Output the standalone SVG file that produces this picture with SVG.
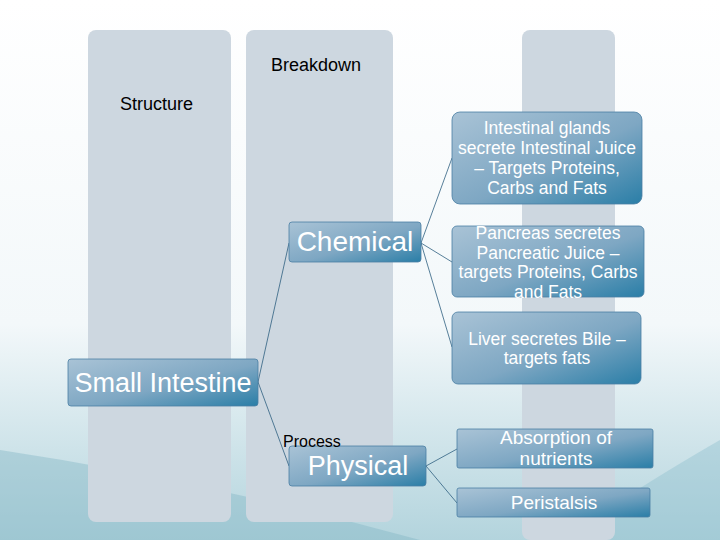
<svg xmlns="http://www.w3.org/2000/svg" width="720" height="540" viewBox="0 0 720 540">
<defs>
<linearGradient id="g" x1="0" y1="0" x2="1" y2="1">
<stop offset="0" stop-color="#a9c3d6"/><stop offset="0.55" stop-color="#7ea7c3"/><stop offset="1" stop-color="#2a7ea7"/>
</linearGradient>
<linearGradient id="bg" x1="0" y1="0" x2="0" y2="1">
<stop offset="0" stop-color="#ffffff"/><stop offset="0.6" stop-color="#f3f8fa"/><stop offset="1" stop-color="#b3d4dd"/>
</linearGradient>
<style>
.col{fill:#cdd7e0}
.n{fill:url(#g);stroke:#4a7fa3;stroke-width:0.8}
.t{font-family:"Liberation Sans",Arial,sans-serif;fill:#fff;text-anchor:middle}
.h{font-family:"Liberation Sans",Arial,sans-serif;fill:#000;font-size:18px}
.c{stroke:#2f5f80;stroke-width:0.8;fill:none}
</style>
</defs>
<rect width="720" height="540" fill="url(#bg)"/>
<path d="M0 450 Q200 480 420 540 L0 540Z" fill="#7fb3c3" opacity="0.4"/>
<path d="M560 540 Q650 480 720 440 L720 540Z" fill="#8bbfcc" opacity="0.4"/>
<g id="columns">
<rect class="col" x="88" y="30" width="143" height="492" rx="8"/>
<rect class="col" x="246" y="30" width="147" height="492" rx="8"/>
<rect class="col" x="522" y="30" width="93" height="510" rx="8"/>
</g>
<text class="h" x="271" y="71">Breakdown</text>
<text class="h" x="120" y="110">Structure</text>
<g id="connectors">
<path class="c" d="M258 382 L289 243 M258 382 L289 466 M421 243 L452 158 M421 243 L452 262 M421 243 L452 347 M426 466 L457 449 M426 466 L457 503"/>
</g>
<g id="small-intestine"><rect class="n" x="68" y="359" width="190" height="47" rx="3"/><text class="t" x="163" y="392" font-size="27">Small Intestine</text></g>
<g id="chemical"><rect class="n" x="289" y="222" width="132" height="40" rx="3"/><text class="t" x="355" y="251" font-size="28">Chemical</text></g>
<g id="physical"><rect class="n" x="289" y="446" width="137" height="40" rx="3"/><text class="t" x="358" y="475" font-size="27">Physical</text></g>
<text x="283" y="447" font-family="Liberation Sans,Arial,sans-serif" font-size="16" fill="#000">Process</text>
<g id="intestinal"><rect class="n" x="452" y="112" width="190" height="92" rx="8"/><text class="t" font-size="17.5"><tspan x="547" y="134">Intestinal glands</tspan><tspan x="547" y="154">secrete Intestinal Juice</tspan><tspan x="547" y="174">– Targets Proteins,</tspan><tspan x="547" y="194">Carbs and Fats</tspan></text></g>
<g id="pancreas"><rect class="n" x="452" y="226" width="192" height="71" rx="5"/><text class="t" font-size="17.5"><tspan x="548" y="239">Pancreas secretes</tspan><tspan x="548" y="259">Pancreatic Juice –</tspan><tspan x="548" y="278">targets Proteins, Carbs</tspan><tspan x="548" y="298">and Fats</tspan></text></g>
<g id="liver"><rect class="n" x="452" y="312" width="189" height="72" rx="6"/><text class="t" font-size="17.5"><tspan x="547" y="345">Liver secretes Bile –</tspan><tspan x="547" y="364">targets fats</tspan></text></g>
<g id="absorption"><rect class="n" x="457" y="429" width="196" height="39" rx="2"/><text class="t" font-size="19"><tspan x="556" y="444">Absorption of</tspan><tspan x="556" y="465">nutrients</tspan></text></g>
<g id="peristalsis"><rect class="n" x="457" y="488" width="193" height="29" rx="2"/><text class="t" x="554" y="509" font-size="19">Peristalsis</text></g>
</svg>
